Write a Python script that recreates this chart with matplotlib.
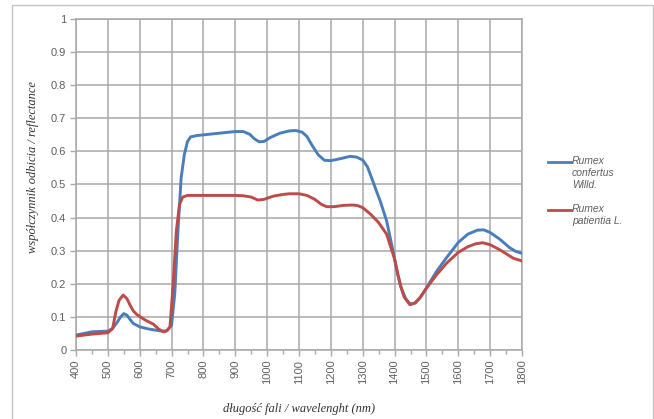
import matplotlib
matplotlib.use("Agg")
import matplotlib.pyplot as plt
from matplotlib.lines import Line2D
from matplotlib.patches import Rectangle

# Reflectance spectra of two dock species
wl_confertus = [400, 425, 450, 475, 500, 515, 530, 540, 550, 560, 570, 580, 600, 625, 650, 670,
                685, 700, 710, 720, 730, 740, 750, 760, 780, 800, 850, 900, 925, 945, 960,
                975, 990, 1010, 1040, 1070, 1090, 1110, 1125, 1140, 1160, 1180, 1200, 1230,
                1260, 1280, 1300, 1315, 1330, 1345, 1355, 1365, 1375, 1385, 1395, 1400,
                1410, 1420, 1435, 1450, 1465, 1480, 1500, 1530, 1560, 1600, 1630, 1660,
                1680, 1700, 1730, 1760, 1780, 1800]
refl_confertus = [0.045, 0.050, 0.055, 0.056, 0.057, 0.065, 0.085, 0.100, 0.110, 0.105, 0.092,
                  0.080, 0.070, 0.064, 0.060, 0.057, 0.058, 0.075, 0.170, 0.360, 0.520, 0.590,
                  0.630, 0.644, 0.648, 0.650, 0.655, 0.660, 0.660, 0.652, 0.638, 0.629, 0.630,
                  0.642, 0.655, 0.662, 0.663, 0.658, 0.645, 0.620, 0.590, 0.573, 0.572, 0.578,
                  0.585, 0.583, 0.574, 0.553, 0.515, 0.475, 0.450, 0.420, 0.390, 0.345,
                  0.300, 0.275, 0.228, 0.190, 0.155, 0.138, 0.142, 0.158, 0.187, 0.235,
                  0.275, 0.325, 0.350, 0.362, 0.363, 0.355, 0.335, 0.310, 0.298, 0.292]

wl_patientia = [400, 425, 450, 475, 500, 515, 525, 535, 548, 560, 570, 580, 590, 605, 622, 643,
                660, 674, 685, 695, 705, 715, 725, 735, 750, 800, 850, 900, 925, 950, 971,
                990, 1020, 1050, 1070, 1100, 1125, 1150, 1170, 1187, 1210, 1240, 1270, 1285,
                1300, 1325, 1350, 1375, 1390, 1400, 1410, 1420, 1430, 1448, 1465, 1480,
                1500, 1530, 1563, 1600, 1630, 1655, 1677, 1700, 1730, 1773, 1800]
refl_patientia = [0.042, 0.045, 0.048, 0.050, 0.052, 0.065, 0.115, 0.150, 0.166, 0.155, 0.135,
                  0.118, 0.108, 0.098, 0.088, 0.078, 0.063, 0.055, 0.058, 0.070, 0.200, 0.360,
                  0.440, 0.462, 0.467, 0.467, 0.467, 0.467, 0.466, 0.462, 0.453, 0.455, 0.465,
                  0.470, 0.472, 0.472, 0.467, 0.455, 0.440, 0.433, 0.433, 0.437, 0.438, 0.436,
                  0.430, 0.410, 0.385, 0.350, 0.305, 0.275, 0.230, 0.190, 0.160, 0.137,
                  0.143, 0.158, 0.187, 0.225, 0.262, 0.295, 0.312, 0.321, 0.324, 0.318,
                  0.303, 0.277, 0.269]

label_confertus = "Rumex\nconfertus\nWilld."
label_patientia = "Rumex\npatientia L."
x_ticks = list(range(400, 1801, 100))
y_ticks = [0, 0.1, 0.2, 0.3, 0.4, 0.5, 0.6, 0.7, 0.8, 0.9, 1]
y_tick_labels = ["0", "0.1", "0.2", "0.3", "0.4", "0.5", "0.6", "0.7", "0.8", "0.9", "1"]

blue = "#4a7ebb"
red = "#be4b48"
grid_c = "#a8a8a8"
text_c = "#5f5f5f"

W, H = 654, 419
fig = plt.figure(figsize=(W / 100, H / 100), dpi=100)
fig.patch.set_facecolor("white")

# outer chart frame
fig.add_artist(Rectangle((12 / W, -0.01), (653 - 12) / W, (H - 5) / H + 0.01,
                         transform=fig.transFigure, fill=False, edgecolor="#c4c4c4", lw=1.0))

ax = fig.add_axes([76 / W, (H - 350) / H, (522 - 76) / W, (350 - 19) / H])
ax.plot(wl_confertus, refl_confertus, color=blue, lw=2.1, solid_capstyle="round",
        solid_joinstyle="round", zorder=3)
ax.plot(wl_patientia, refl_patientia, color=red, lw=2.1, solid_capstyle="round",
        solid_joinstyle="round", zorder=4)

ax.set_xlim(400, 1800)
ax.set_ylim(0, 1)
ax.set_xticks(x_ticks)
ax.set_xticklabels([str(v) for v in x_ticks], rotation=90)
ax.set_xticks(list(range(450, 1800, 100)), minor=True)
ax.set_yticks(y_ticks)
ax.set_yticklabels(y_tick_labels)
ax.grid(True, which="major", color=grid_c, lw=1.1)
ax.set_axisbelow(True)
for s in ax.spines.values():
    s.set_color(grid_c)
    s.set_linewidth(1.1)
ax.tick_params(axis="both", which="major", colors=grid_c, length=4, width=1.0,
               labelcolor=text_c, labelsize=8, pad=3)
ax.tick_params(axis="x", which="minor", colors=grid_c, length=3, width=1.0)
for lab in ax.get_xticklabels() + ax.get_yticklabels():
    lab.set_fontfamily("Liberation Sans")

ax.set_xlabel("długość fali / wavelenght (nm)", fontfamily="Liberation Serif",
              fontstyle="italic", fontsize=9, color="#333333", labelpad=13)
fig.text(33 / W, 1 - 167 / H, "współczynnik odbicia / reflectance", rotation=90,
         ha="center", va="center", fontfamily="Liberation Serif", fontstyle="italic",
         fontsize=9, color="#333333")

# legend
for y_px, col, lab in [(162, blue, label_confertus), (210, red, label_patientia)]:
    fig.add_artist(Line2D([548 / W, 571 / W], [1 - y_px / H, 1 - y_px / H],
                          transform=fig.transFigure, color=col, lw=2.0))
    fig.text(572 / W, 1 - (y_px - 6) / H, lab, ha="left", va="top",
             fontfamily="Liberation Sans", fontstyle="italic", fontsize=7.5,
             color=text_c, linespacing=1.25)

fig.savefig("out.png", dpi=100)
